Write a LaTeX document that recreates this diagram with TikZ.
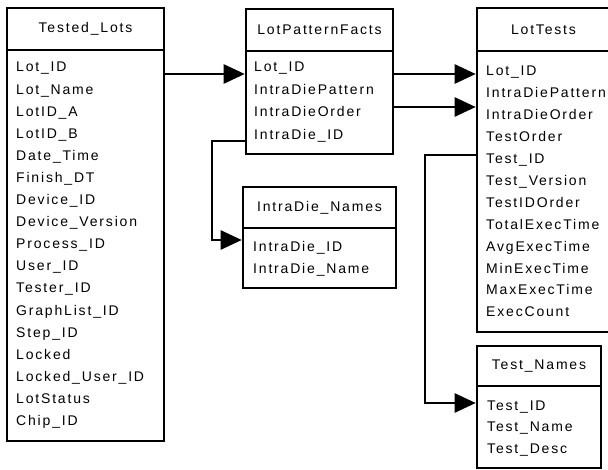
\documentclass[tikz,border=0pt]{standalone}
\usepackage{fontspec}
\setmainfont{Liberation Sans}[LetterSpace=13]
\usetikzlibrary{arrows.meta}
\tikzset{
  frame/.style={draw=black, line width=2.6pt, rectangle, inner sep=0pt},
  hdr/.style={frame, font=\fontsize{14}{16}\selectfont},
  row/.style={anchor=base west, inner sep=0pt, font=\fontsize{14}{16}\selectfont},
  conn/.style={draw=black, line width=2.6pt},
  arr/.style={conn, -{Triangle[length=21pt,width=19pt]}}
}
\newcommand\mktable[7]{% name, left, top, sep, bottom, right, title
  \node[hdr, minimum width={(#6-#2)*1pt}, minimum height={(#4-#3)*1pt}] (#1h) at ({(#2+#6)/2},{(#3+#4)/2}) {#7};
  \node[frame, minimum width={(#6-#2)*1pt}, minimum height={(#5-#4)*1pt}] (#1b) at ({(#2+#6)/2},{(#4+#5)/2}) {};
}
\begin{document}
\begin{tikzpicture}[x=1pt,y=-1pt]
\useasboundingbox[fill=white] (0,0) rectangle (608,470);
% tables
\mktable{tl}{7}{8}{50}{441}{164}{Tested\_Lots}
\mktable{lpf}{246}{9}{51}{154}{393}{LotPatternFacts}
\mktable{idn}{243}{187}{228}{288}{396}{IntraDie\_Names}
\mktable{lt}{477}{8}{51}{332}{610}{LotTests}
\mktable{tn}{477}{346}{386}{468}{601}{Test\_Names}
% rows
\foreach \t [count=\i from 0] in {Lot\_ID,Lot\_Name,LotID\_A,LotID\_B,Date\_Time,Finish\_DT,Device\_ID,Device\_Version,Process\_ID,User\_ID,Tester\_ID,GraphList\_ID,Step\_ID,Locked,Locked\_User\_ID,LotStatus,Chip\_ID}
  \node[row] (tl\i) at (16,{72+22.1*\i}) {\t};
\foreach \t [count=\i from 0] in {Lot\_ID,IntraDiePattern,IntraDieOrder,IntraDie\_ID}
  \node[row] (lpf\i) at (254,{72+22.5*\i}) {\t};
\foreach \t [count=\i from 0] in {IntraDie\_ID,IntraDie\_Name}
  \node[row] (idn\i) at (253,{252+21.7*\i}) {\t};
\foreach \t [count=\i from 0] in {Lot\_ID,IntraDiePattern,IntraDieOrder,TestOrder,Test\_ID,Test\_Version,TestIDOrder,TotalExecTime,AvgExecTime,MinExecTime,MaxExecTime,ExecCount}
  \node[row] (lt\i) at (486,{76+21.9*\i}) {\t};
\foreach \t [count=\i from 0] in {Test\_ID,Test\_Name,Test\_Desc}
  \node[row] (tn\i) at (487,{410+21.7*\i}) {\t};
% connector levels
\coordinate (y1) at (0,74);
\coordinate (y2) at (0,107);
\coordinate (y3) at (0,141);
\coordinate (k1) at (212,240);
\coordinate (y4) at (0,155);
\coordinate (k2) at (425,403);
% connectors
\draw[arr] (tlb.east |- y1) -- (lpfb.west |- y1);
\draw[arr] (lpfb.east |- y1) -- (ltb.west |- y1);
\draw[arr] (lpfb.east |- y2) -- (ltb.west |- y2);
\draw[arr] (lpfb.west |- y3) -| (k1) -- (idnb.west |- k1);
\draw[arr] (ltb.west |- y4) -| (k2) -- (tnb.west |- k2);
\end{tikzpicture}
\end{document}
